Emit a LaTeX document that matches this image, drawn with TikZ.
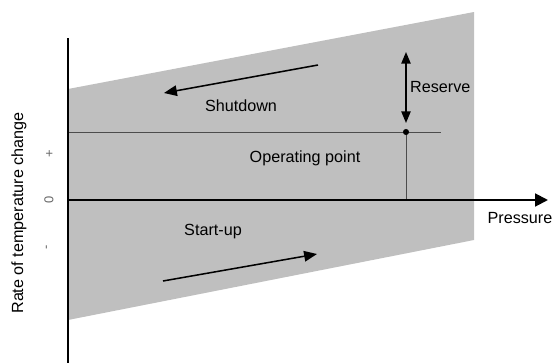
\documentclass[tikz,border=0pt]{standalone}
\usepackage{fontspec}
\setmainfont{Liberation Sans}
\usetikzlibrary{arrows.meta}

\begin{document}
\begin{tikzpicture}[x=0.03cm,y=-0.03cm,
    every node/.style={font=\fontsize{13.8}{16}\selectfont},
    ticklabel/.style={rotate=90,text=black!60,font=\fontsize{11}{13}\selectfont},
    thinline/.style={line width=0.8pt,black!70},
    trend/.style={line width=1.3pt,-{Triangle[length=11pt,width=9pt]}}]
    \useasboundingbox (0,0) rectangle (554,363);
    \fill[gray!50] (68,89) -- (474,12) -- (474,240) -- (68,320) -- cycle;
    % operating point and its guide lines
    \coordinate (op) at (406,132);
    \draw[thinline] (68,132) -- (441,132);
    \draw[thinline] (op) -- (406,200);
    \fill (op) circle[radius=2.6pt];
    \draw[line width=1.3pt,{Triangle[length=10pt,width=8pt]}-{Triangle[length=10pt,width=8pt]}] (406,52) -- (406,123);
    \node[anchor=west] (res) at (406,87) {Reserve};
    % axes
    \draw[line width=1.7pt] (68,363) -- (68,38);
    \draw[line width=1.7pt,-{Triangle[length=11pt,width=11pt]}] (68,200) -- (548,200);
    \node (pres) at (520,218) {Pressure};
    \node[rotate=90] (ylab) at (19,213) {Rate of temperature change};
    \node[ticklabel] (plus) at (50,154) {+};
    \node[ticklabel] (zero) at (49,200) {0};
    \node[ticklabel] (minus) at (48,247) {-};
    % directions
    \draw[trend] (318,65) -- (164,93);
    \draw[trend] (163,281) -- (317,254);
    \node (shut) at (241,106) {Shutdown};
    \node (opt) at (305,158) {Operating point};
    \node (start) at (213,232) {Start-up};
\end{tikzpicture}
\end{document}
